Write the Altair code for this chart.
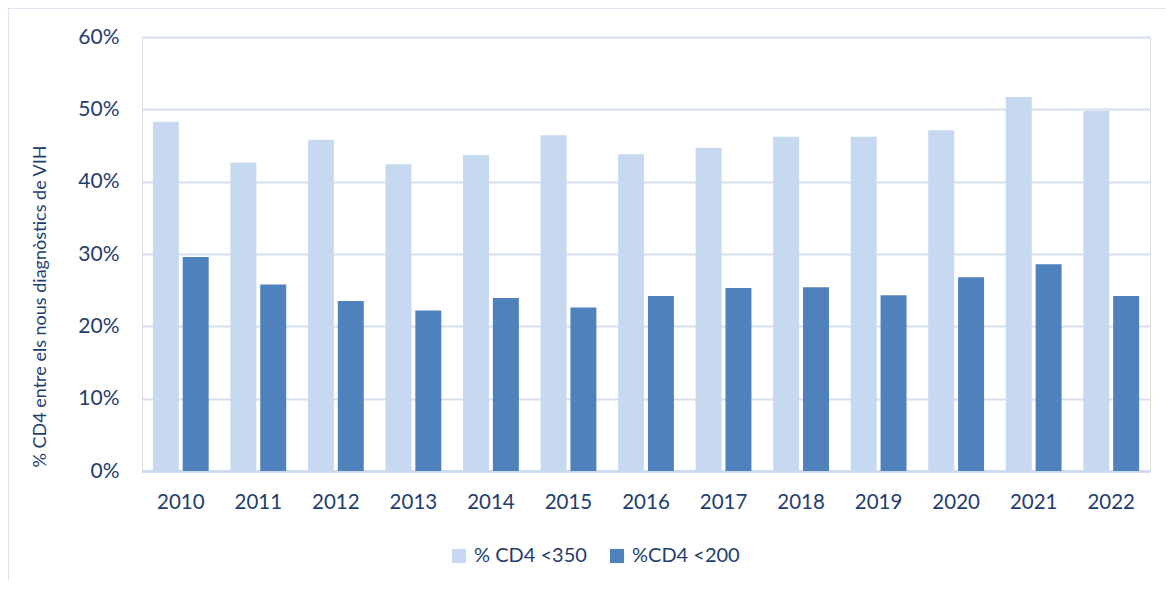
import altair as alt
import pandas as pd

years = ["2010", "2011", "2012", "2013", "2014", "2015", "2016",
         "2017", "2018", "2019", "2020", "2021", "2022"]
cd4_350 = [48.3, 42.6, 45.8, 42.4, 43.7, 46.4, 43.8, 44.7, 46.2, 46.2, 47.1, 51.7, 49.8]
cd4_200 = [29.6, 25.8, 23.5, 22.2, 23.9, 22.6, 24.2, 25.3, 25.4, 24.3, 26.8, 28.6, 24.2]
series = ["% CD4 <350", "%CD4 <200"]
colors = ["#c6d9f0", "#4f81bd"]

rows = []
for y, a, b in zip(years, cd4_350, cd4_200):
    rows.append({"year": y, "series": series[0], "value": a / 100})
    rows.append({"year": y, "series": series[1], "value": b / 100})
df = pd.DataFrame(rows)

FONT = "Lato"
TXT = "#1f3d6e"
W, H = 1008, 434

bars = alt.Chart(df).mark_bar().encode(
    x=alt.X("year:N", sort=years,
            scale=alt.Scale(paddingInner=0.28, paddingOuter=0.14),
            axis=alt.Axis(title=None, labelAngle=0, labelFont=FONT, labelFontSize=20.5,
                          labelColor=TXT, labelPadding=21, ticks=False,
                          domainColor="#c9d9ee", domainWidth=2.5, grid=False)),
    xOffset=alt.XOffset("series:N", sort=series,
                        scale=alt.Scale(paddingInner=0.13)),
    y=alt.Y("value:Q", scale=alt.Scale(domain=[0, 0.6]),
            axis=alt.Axis(values=[0, 0.1, 0.2, 0.3, 0.4, 0.5, 0.6], format=".0%",
                          title="% CD4 entre els nous diagnòstics de VIH",
                          titleFont=FONT, titleFontSize=18, titleFontWeight="normal",
                          titleColor=TXT, titleX=-102, titleY=269, titleAngle=270,
                          titleAlign="center", titleBaseline="middle",
                          labelFont=FONT, labelFontSize=21, labelColor=TXT,
                          labelPadding=23, ticks=False, domain=False,
                          gridColor="#d6e0ee", gridWidth=2)),
    color=alt.Color("series:N", sort=series,
                    scale=alt.Scale(domain=series, range=colors),
                    title=None,
                    legend=alt.Legend(orient="none", legendX=307, legendY=509,
                                      direction="horizontal", symbolType="square",
                                      symbolSize=200, symbolStrokeWidth=0,
                                      labelFont=FONT, labelFontSize=20, labelColor=TXT,
                                      columnPadding=20, labelOffset=5)),
)

frame_top = alt.Chart(pd.DataFrame({"k": [0]})).mark_rule(
    color="#dce6f2", strokeWidth=2).encode(
    x=alt.value(-134), x2=alt.value(1030), y=alt.value(-29))
frame_left = alt.Chart(pd.DataFrame({"k": [0]})).mark_rule(
    color="#dce6f2", strokeWidth=2).encode(
    x=alt.value(-134), y=alt.value(-29), y2=alt.value(545))

chart = alt.layer(bars, frame_top, frame_left).properties(
    width=W, height=H,
    autosize=alt.AutoSizeParams(type="none"),
    padding={"left": 134, "top": 29, "right": 16, "bottom": 110},
).configure_view(stroke=None).configure(background="white")

chart.save("out.html", embed_options={"renderer": "svg", "actions": False})
